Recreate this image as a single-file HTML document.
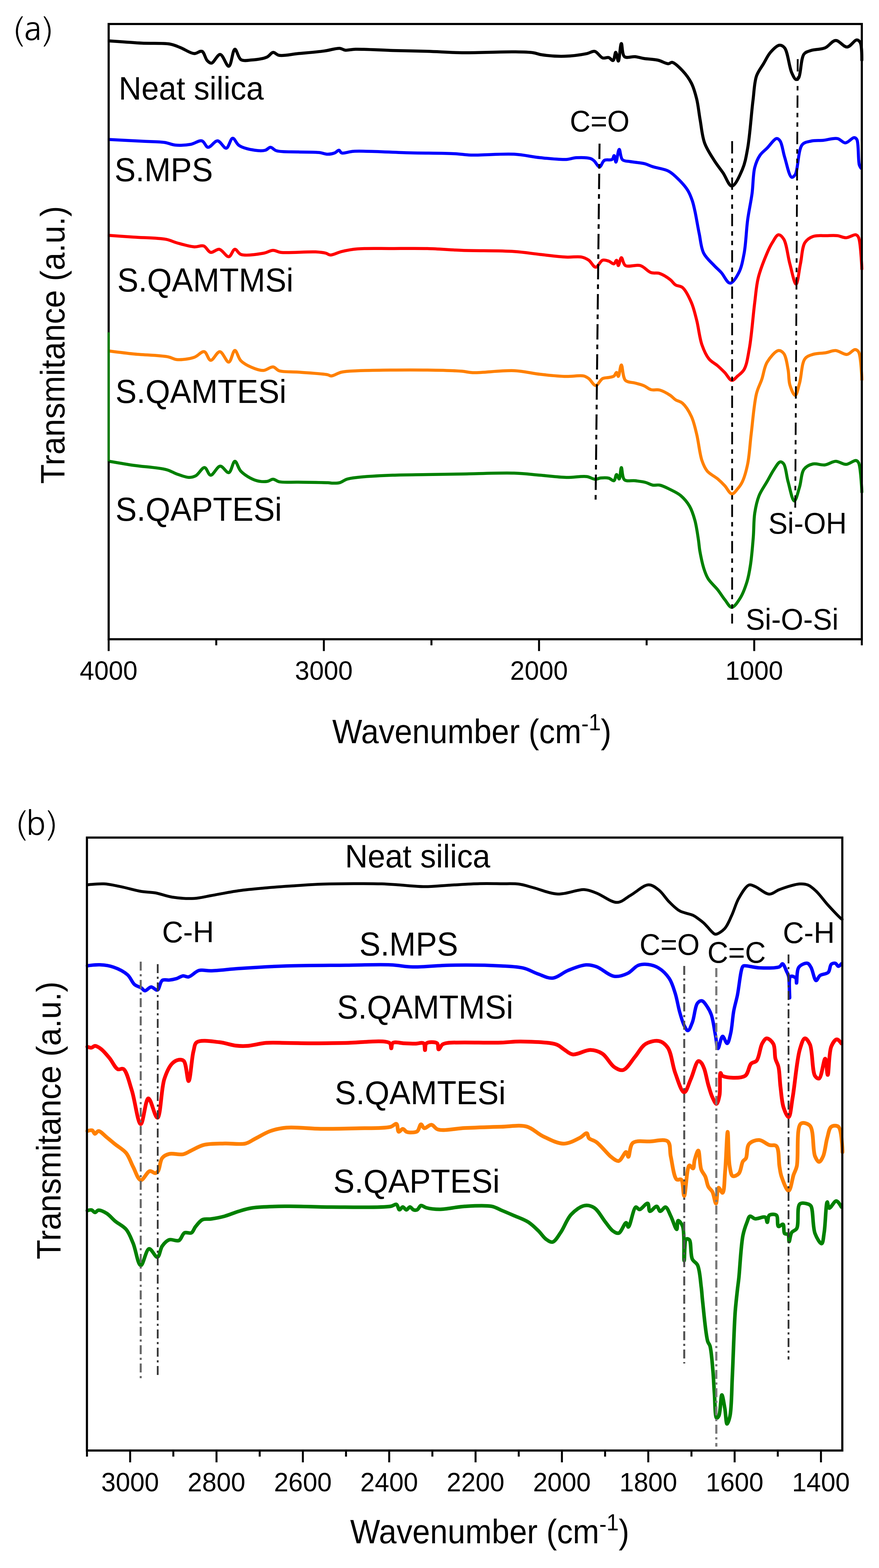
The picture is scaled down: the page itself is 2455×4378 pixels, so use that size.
<!DOCTYPE html><html><head><meta charset="utf-8"><title>FTIR spectra</title>
<style>html,body{margin:0;padding:0;background:#fff;}body{width:2455px;height:4378px;overflow:hidden;}svg{display:block;}text{font-family:"Liberation Sans", Arial, Helvetica, sans-serif;fill:#000;stroke:none;}</style></head><body>
<svg width="2455" height="4378" viewBox="0 0 2455 4378">
<rect width="2455" height="4378" fill="#fff"/>
<g>
<path d="M305.0 114.3C305.1 114.3 333.5 116.2 348.4 117.2C364.1 118.3 378.9 119.7 397.0 120.6C419.8 121.8 455.0 119.5 474.4 123.0C486.6 125.2 493.2 128.7 503.5 132.7C515.5 137.3 530.8 148.8 542.0 149.6C550.2 150.2 558.1 140.9 564.0 143.3C570.7 146.0 573.2 163.4 578.6 169.0C582.4 172.9 586.2 176.8 590.7 176.3C597.7 175.4 607.3 151.4 615.0 152.0C623.4 152.7 632.4 186.0 639.0 185.0C646.4 183.9 649.6 138.1 656.0 137.5C661.2 137.0 664.9 161.7 673.0 166.6C680.5 171.1 691.4 168.4 702.0 167.6C715.1 166.6 734.9 164.1 745.7 159.3C753.2 155.9 756.9 146.8 762.7 146.2C768.2 145.7 772.1 153.1 779.6 154.5C792.2 156.8 813.8 151.4 833.0 149.6C855.3 147.5 884.5 145.2 905.6 142.4C922.0 140.2 938.4 134.2 949.0 135.0C955.3 135.5 957.9 139.3 963.7 140.0C971.7 141.0 980.1 137.8 992.8 137.5C1016.8 136.9 1062.9 140.0 1097.0 141.0C1129.9 141.9 1161.7 142.3 1194.0 143.3C1226.3 144.3 1255.2 146.8 1290.7 147.2C1334.2 147.7 1399.5 144.3 1436.0 144.8C1458.0 145.1 1474.8 145.2 1489.0 147.2C1498.8 148.6 1503.4 151.5 1513.6 153.0C1529.7 155.4 1555.6 157.6 1576.6 157.0C1597.6 156.4 1624.1 152.7 1639.5 149.6C1648.6 147.7 1654.2 141.9 1661.0 143.3C1668.7 144.9 1675.7 159.3 1683.0 161.7C1688.7 163.6 1695.0 159.3 1700.0 160.7C1704.7 162.0 1709.2 170.1 1712.3 169.0C1716.3 167.6 1717.3 146.0 1719.7 146.0C1722.2 146.0 1724.7 170.7 1727.0 170.6C1730.1 170.4 1732.3 121.5 1735.4 121.4C1738.1 121.3 1736.9 152.5 1744.2 158.3C1750.6 163.4 1764.4 157.4 1773.7 158.3C1782.3 159.1 1789.1 161.7 1798.3 163.2C1809.8 165.1 1825.6 165.3 1837.6 168.0C1848.2 170.4 1859.8 178.2 1867.0 178.0C1871.2 177.9 1873.0 173.4 1877.0 174.0C1884.5 175.1 1897.6 188.3 1906.4 197.6C1915.7 207.5 1924.5 219.3 1931.0 232.0C1937.8 245.3 1941.7 260.1 1945.7 276.0C1950.2 294.1 1951.9 315.0 1955.5 335.0C1959.2 355.9 1960.8 379.6 1967.8 399.0C1974.3 417.0 1985.6 433.3 1994.8 448.0C2002.8 460.8 2011.3 470.8 2019.4 482.6C2027.7 494.6 2035.5 519.6 2044.0 519.5C2053.5 519.4 2066.2 489.9 2073.5 472.8C2081.2 454.8 2083.9 437.6 2088.2 413.8C2094.5 378.6 2098.3 318.0 2103.0 281.0C2106.4 254.3 2106.5 230.8 2112.8 212.3C2117.6 198.4 2125.8 189.2 2132.4 178.0C2138.9 167.1 2144.2 154.8 2152.0 146.0C2159.2 137.9 2169.3 127.1 2176.7 126.3C2182.0 125.7 2187.1 128.5 2191.4 133.7C2200.4 144.6 2204.0 186.9 2211.0 202.5C2215.0 211.4 2219.3 221.1 2223.3 222.0C2225.8 222.5 2228.4 220.5 2230.7 217.2C2237.0 208.1 2236.4 162.7 2245.5 151.0C2250.7 144.3 2257.1 143.7 2265.0 141.0C2275.6 137.4 2292.7 138.6 2304.4 133.7C2315.5 129.0 2323.8 113.4 2334.0 113.0C2344.3 112.5 2355.8 131.8 2365.8 131.3C2375.4 130.8 2386.1 111.5 2392.9 111.6C2397.0 111.6 2400.3 114.6 2402.7 119.0C2407.5 127.7 2407.0 167.9 2407.0 168.0" fill="none" stroke="#000" stroke-width="8.5" stroke-linejoin="round" stroke-linecap="round"/>
<path d="M305.0 389.5C305.1 389.5 369.2 392.8 397.0 394.3C420.0 395.5 443.1 395.1 460.0 397.7C471.6 399.5 478.3 403.9 489.0 405.0C502.0 406.3 519.4 405.3 532.6 403.0C544.1 401.0 555.6 391.1 564.0 393.3C571.3 395.2 574.3 410.6 581.0 411.3C588.6 412.1 599.1 392.9 607.6 393.3C616.1 393.7 625.0 414.8 632.0 413.7C639.1 412.6 643.5 386.5 649.8 386.0C655.6 385.5 659.7 401.1 668.0 406.4C678.8 413.3 698.5 417.6 711.8 419.5C722.4 421.1 733.2 421.6 741.0 419.5C746.9 417.9 750.4 411.3 755.4 411.3C760.8 411.3 764.6 418.7 772.4 421.0C786.1 425.0 813.0 423.5 833.0 424.3C852.5 425.1 875.9 424.1 891.0 425.8C900.8 426.9 907.4 430.5 915.0 430.6C921.9 430.7 929.1 429.2 934.7 427.0C939.4 425.2 943.4 419.1 946.8 419.5C949.7 419.9 950.2 425.7 954.0 427.0C960.8 429.4 972.5 423.2 988.0 422.4C1021.2 420.6 1095.5 425.6 1145.0 426.8C1189.3 427.8 1239.8 427.6 1271.0 429.2C1289.5 430.2 1296.7 432.4 1315.0 433.0C1345.3 434.0 1400.8 428.6 1436.0 430.6C1463.4 432.1 1484.5 437.9 1508.7 440.3C1532.8 442.7 1562.4 446.1 1581.0 445.2C1592.8 444.6 1599.4 440.9 1609.8 440.3C1622.0 439.7 1641.1 439.9 1649.7 442.8C1654.4 444.4 1656.2 446.4 1659.7 449.4C1664.4 453.5 1669.9 466.2 1674.6 466.0C1679.3 465.8 1682.0 451.1 1687.9 447.7C1693.7 444.3 1704.9 448.4 1709.5 445.3C1712.9 443.0 1713.6 434.3 1715.3 434.5C1717.4 434.7 1718.4 452.7 1720.3 452.7C1722.9 452.7 1726.2 417.1 1729.4 417.0C1732.3 416.9 1732.6 440.5 1738.5 446.0C1743.4 450.6 1753.0 449.8 1759.3 451.0C1764.5 452.0 1768.2 452.2 1773.7 453.0C1781.2 454.1 1791.6 454.8 1800.0 456.9C1808.0 459.0 1814.0 462.5 1822.9 465.4C1835.1 469.4 1854.4 471.1 1867.0 477.7C1878.6 483.8 1887.6 493.3 1896.6 502.3C1905.6 511.3 1914.7 521.5 1921.0 531.7C1926.6 540.8 1930.1 550.4 1933.4 560.0C1936.7 569.5 1938.2 577.4 1940.8 589.0C1944.6 606.1 1948.7 632.6 1953.0 653.0C1956.9 671.8 1957.7 691.8 1965.4 707.0C1972.3 720.8 1985.8 731.8 1994.8 741.5C2001.8 749.1 2007.8 753.6 2014.5 761.0C2022.4 769.7 2030.8 790.6 2039.0 790.6C2047.2 790.6 2057.3 773.2 2063.6 761.0C2071.2 746.3 2074.5 727.6 2078.4 707.0C2083.4 680.3 2084.2 642.9 2088.2 613.7C2091.7 587.6 2097.2 564.5 2100.5 540.0C2103.7 515.9 2102.9 487.2 2107.9 467.9C2111.5 454.0 2116.2 442.9 2122.6 433.5C2128.1 425.4 2135.2 420.9 2142.3 413.8C2150.6 405.5 2162.4 387.3 2169.3 386.8C2173.2 386.5 2176.1 389.8 2179.0 394.0C2184.6 402.1 2186.5 422.8 2191.4 438.4C2197.0 456.2 2203.9 492.7 2211.0 494.9C2214.2 495.9 2217.9 492.2 2221.0 487.5C2229.1 475.1 2228.7 417.8 2240.5 404.0C2247.0 396.3 2255.9 396.1 2265.0 394.0C2275.3 391.6 2287.6 392.8 2299.5 391.7C2312.2 390.5 2327.8 384.7 2338.8 386.8C2347.6 388.5 2353.5 399.1 2361.0 399.0C2369.0 398.8 2379.7 384.2 2385.5 384.3C2388.7 384.4 2390.9 385.8 2392.9 389.2C2398.7 398.8 2396.2 448.0 2400.0 460.5C2401.5 465.4 2405.0 470.0 2405.0 470.0" fill="none" stroke="#0000ff" stroke-width="8.5" stroke-linejoin="round" stroke-linecap="round"/>
<path d="M305.0 657.2C305.1 657.2 348.4 660.3 372.7 662.0C401.0 664.0 442.8 664.1 464.7 668.4C477.3 670.9 482.8 674.9 493.8 678.0C507.8 681.9 528.4 688.2 542.2 689.2C552.3 689.9 561.2 684.2 568.9 686.8C576.5 689.4 581.0 703.2 588.3 704.7C595.5 706.2 604.6 694.7 612.5 696.0C621.5 697.5 631.5 717.6 639.0 716.8C645.7 716.1 650.0 696.5 656.0 696.0C661.4 695.5 664.8 707.7 673.0 710.5C686.8 715.2 719.6 709.9 736.0 707.0C746.9 705.1 754.2 699.1 762.7 699.0C770.3 698.9 774.5 703.5 784.5 704.7C805.2 707.2 858.6 702.0 881.4 703.3C894.0 704.0 903.0 705.0 910.5 707.0C915.5 708.3 917.6 711.8 922.6 712.0C930.6 712.4 942.6 705.0 954.0 702.3C967.3 699.2 980.1 696.5 997.7 695.0C1024.0 692.7 1064.1 694.2 1097.0 694.0C1129.5 693.8 1161.7 693.2 1194.0 694.0C1226.3 694.8 1255.2 697.7 1290.7 699.0C1334.2 700.6 1395.9 699.6 1436.0 702.3C1464.4 704.2 1484.5 707.9 1508.7 710.5C1532.8 713.1 1559.9 716.7 1581.0 717.8C1597.5 718.6 1613.5 715.3 1625.0 717.8C1633.0 719.5 1638.3 722.3 1644.4 726.5C1651.3 731.3 1657.4 746.0 1663.8 746.0C1670.2 746.0 1676.2 728.8 1683.0 726.5C1688.4 724.7 1694.7 727.3 1700.0 729.0C1705.2 730.7 1710.9 737.5 1714.7 736.6C1718.0 735.8 1720.0 726.4 1722.0 726.7C1724.2 727.0 1725.1 741.5 1727.0 741.5C1729.4 741.5 1732.2 719.6 1735.4 719.4C1738.7 719.2 1739.9 737.3 1746.7 741.5C1755.5 746.9 1776.3 737.8 1788.5 741.5C1799.8 744.9 1808.2 757.5 1818.0 761.0C1826.2 763.9 1834.2 760.9 1842.5 763.6C1852.2 766.8 1864.2 774.8 1872.0 780.8C1878.1 785.5 1881.0 791.8 1886.7 795.5C1892.4 799.2 1900.3 797.8 1906.4 803.0C1915.7 810.8 1924.5 829.8 1931.0 844.7C1937.7 860.0 1941.1 876.0 1945.7 893.8C1951.1 914.7 1953.6 943.2 1960.4 962.6C1965.8 977.9 1971.7 991.8 1980.0 1002.0C1987.0 1010.6 1997.1 1015.0 2004.7 1021.6C2011.7 1027.7 2017.6 1033.5 2024.0 1040.0C2030.7 1046.9 2037.4 1061.4 2044.0 1062.0C2049.4 1062.5 2054.7 1054.7 2060.0 1050.0C2066.1 1044.7 2073.4 1040.3 2078.4 1031.4C2086.0 1017.9 2088.7 996.0 2093.0 972.4C2099.2 938.1 2103.2 880.7 2107.9 844.7C2111.3 818.2 2112.1 798.6 2117.7 775.9C2123.4 752.6 2134.6 725.0 2142.3 707.0C2147.4 695.0 2151.4 686.5 2157.0 677.6C2162.2 669.4 2168.3 656.1 2174.2 655.5C2179.1 655.0 2184.7 661.0 2189.0 667.8C2197.2 680.8 2200.0 714.9 2206.0 736.6C2211.5 756.4 2218.3 793.2 2223.3 793.0C2228.2 792.8 2231.5 755.6 2235.6 736.6C2239.8 717.2 2239.9 690.6 2248.0 677.6C2253.5 668.8 2261.0 663.8 2270.0 660.4C2280.7 656.3 2297.1 658.4 2309.3 658.0C2319.8 657.7 2329.5 656.9 2338.8 658.0C2347.4 659.0 2355.0 664.1 2363.4 663.8C2372.2 663.5 2384.5 654.0 2390.4 655.5C2394.0 656.4 2395.7 658.5 2397.8 662.9C2403.9 675.8 2407.0 751.2 2407.0 751.3" fill="none" stroke="#ff0000" stroke-width="8.5" stroke-linejoin="round" stroke-linecap="round"/>
<path d="M305.0 980.0C305.1 980.0 348.1 985.7 372.7 988.2C402.1 991.2 448.2 992.2 469.6 996.4C480.5 998.5 484.2 1003.2 493.8 1004.0C507.1 1005.2 528.6 1002.3 542.2 997.8C553.3 994.1 562.5 980.3 570.3 981.9C577.8 983.5 581.4 1005.4 588.3 1006.0C595.8 1006.7 605.7 981.5 614.0 981.9C622.6 982.4 631.9 1011.8 639.0 1011.0C645.9 1010.2 650.2 978.6 656.0 978.5C661.5 978.4 664.7 999.4 673.0 1007.5C682.5 1016.8 700.1 1024.9 711.8 1029.3C720.5 1032.5 727.8 1034.8 736.0 1034.2C744.8 1033.5 755.0 1023.7 762.7 1024.5C769.2 1025.2 772.0 1032.7 779.6 1035.2C792.1 1039.3 813.3 1037.4 833.0 1039.0C857.5 1041.0 901.4 1043.3 915.3 1046.3C920.2 1047.4 920.9 1049.7 925.0 1049.7C932.1 1049.6 943.2 1041.4 954.0 1039.0C966.9 1036.1 977.9 1036.2 997.7 1035.2C1039.6 1033.2 1140.0 1032.5 1194.0 1033.2C1231.9 1033.7 1267.9 1034.7 1290.7 1036.6C1303.3 1037.7 1306.8 1039.9 1319.8 1040.5C1345.6 1041.6 1401.8 1033.5 1436.0 1035.0C1463.1 1036.2 1484.5 1042.3 1508.7 1045.0C1532.8 1047.7 1559.2 1050.4 1581.0 1051.0C1598.8 1051.5 1618.5 1047.2 1629.8 1049.7C1636.3 1051.1 1639.5 1053.5 1644.4 1057.0C1650.8 1061.6 1657.4 1076.3 1663.8 1076.3C1670.2 1076.3 1676.2 1060.6 1683.0 1057.0C1688.4 1054.2 1694.6 1055.2 1700.0 1054.0C1705.1 1052.9 1711.0 1052.6 1714.7 1050.0C1718.1 1047.7 1719.9 1039.8 1722.0 1040.0C1724.0 1040.2 1725.3 1051.1 1727.0 1051.0C1729.8 1050.8 1732.4 1019.0 1735.4 1019.0C1738.9 1019.0 1738.7 1053.9 1746.7 1062.0C1753.0 1068.4 1764.9 1067.0 1773.7 1069.5C1782.1 1071.9 1790.7 1073.7 1798.3 1076.9C1805.4 1079.9 1810.8 1086.0 1818.0 1088.0C1825.5 1090.1 1834.2 1086.8 1842.5 1089.0C1852.1 1091.5 1864.1 1098.7 1872.0 1103.9C1878.0 1107.9 1881.2 1112.6 1886.7 1116.2C1892.6 1120.0 1900.2 1120.5 1906.4 1126.0C1915.3 1133.8 1924.6 1149.1 1931.0 1162.8C1937.9 1177.5 1941.2 1193.8 1945.7 1212.0C1951.2 1234.0 1954.0 1267.0 1960.4 1285.7C1964.7 1298.1 1968.1 1306.8 1975.2 1315.2C1982.7 1324.1 1996.1 1330.0 2004.7 1337.3C2012.0 1343.6 2017.7 1349.3 2024.0 1356.0C2030.8 1363.1 2037.5 1378.6 2044.0 1379.0C2049.4 1379.4 2055.2 1370.5 2060.0 1365.0C2065.1 1359.1 2069.5 1353.3 2073.5 1344.7C2079.4 1332.2 2084.3 1314.2 2088.2 1295.5C2093.2 1271.5 2094.3 1241.9 2098.0 1212.0C2102.3 1177.2 2105.9 1126.7 2112.8 1099.0C2117.0 1082.2 2122.8 1073.5 2127.5 1059.7C2132.7 1044.6 2134.2 1025.4 2142.3 1011.7C2150.0 998.6 2165.1 980.1 2174.2 978.8C2179.7 978.0 2185.0 981.9 2189.0 987.0C2195.6 995.4 2198.2 1016.6 2201.0 1031.4C2203.8 1045.7 2202.2 1061.7 2206.0 1074.4C2209.3 1085.5 2216.5 1104.2 2220.9 1103.9C2225.6 1103.6 2229.3 1083.0 2233.2 1069.5C2238.5 1050.9 2238.6 1014.7 2248.0 1002.0C2253.7 994.3 2261.4 992.5 2270.0 989.6C2280.4 986.1 2295.6 986.7 2306.9 984.7C2316.7 983.0 2324.7 978.3 2334.0 978.8C2344.3 979.4 2356.4 990.7 2365.8 989.6C2374.1 988.7 2382.1 975.8 2388.0 975.9C2391.9 976.0 2395.1 978.0 2397.8 982.3C2404.7 993.5 2407.0 1059.9 2407.0 1060.0" fill="none" stroke="#ff8000" stroke-width="8.5" stroke-linejoin="round" stroke-linecap="round"/>
<path d="M305.0 1288.0C305.1 1288.0 348.4 1295.6 372.7 1299.2C401.0 1303.4 442.9 1305.4 464.7 1311.3C477.4 1314.7 483.6 1319.9 493.8 1323.4C504.6 1327.1 518.0 1332.8 527.7 1333.0C535.0 1333.1 540.6 1331.7 547.0 1328.3C555.2 1323.8 564.2 1305.0 571.3 1305.5C577.8 1306.0 581.7 1326.3 588.3 1326.8C596.0 1327.3 606.1 1302.1 615.0 1301.6C623.0 1301.1 632.3 1321.1 639.0 1319.6C646.3 1318.0 650.2 1288.2 656.0 1288.0C661.5 1287.9 664.9 1307.8 673.0 1316.0C682.6 1325.7 698.8 1335.8 711.8 1340.4C723.0 1344.3 736.4 1345.4 745.7 1344.3C752.5 1343.5 757.1 1337.9 762.7 1338.0C768.4 1338.1 772.2 1343.6 779.6 1345.2C792.2 1347.9 813.3 1345.8 833.0 1346.2C857.5 1346.7 899.0 1346.8 915.3 1347.7C922.2 1348.1 924.8 1348.9 930.0 1349.0C935.9 1349.1 942.8 1349.4 949.0 1347.7C955.7 1345.9 961.2 1340.4 968.6 1338.0C977.2 1335.2 985.1 1334.5 997.7 1333.0C1020.9 1330.3 1064.1 1328.1 1097.0 1326.8C1129.5 1325.5 1161.5 1325.6 1193.8 1325.0C1226.1 1324.4 1255.1 1324.0 1290.7 1323.4C1334.2 1322.7 1395.9 1319.7 1436.0 1321.0C1464.4 1321.9 1484.5 1324.8 1508.7 1326.8C1532.9 1328.8 1558.5 1332.5 1581.4 1333.0C1601.8 1333.5 1624.9 1328.6 1639.5 1330.7C1648.7 1332.0 1654.4 1337.6 1661.3 1338.0C1667.3 1338.4 1672.3 1335.1 1678.3 1334.6C1685.1 1334.0 1693.6 1333.5 1700.0 1335.0C1705.5 1336.3 1711.1 1343.6 1714.7 1342.2C1718.6 1340.8 1719.3 1325.2 1722.0 1325.0C1724.3 1324.8 1727.5 1337.7 1729.5 1337.3C1732.5 1336.7 1733.0 1305.5 1735.4 1305.4C1737.9 1305.3 1737.2 1333.9 1744.2 1339.8C1750.6 1345.2 1763.9 1341.0 1773.7 1342.2C1783.6 1343.4 1794.5 1344.7 1803.2 1347.0C1810.5 1349.0 1816.2 1353.3 1822.9 1354.5C1829.3 1355.7 1835.5 1353.1 1842.5 1354.5C1851.5 1356.3 1862.3 1362.0 1872.0 1366.8C1882.0 1371.8 1892.7 1376.5 1901.5 1384.0C1910.8 1391.9 1919.5 1402.4 1926.0 1413.5C1932.8 1425.2 1936.8 1438.5 1940.8 1452.8C1945.3 1469.2 1948.2 1491.1 1950.6 1506.8C1952.5 1518.8 1952.6 1527.0 1954.7 1538.8C1957.4 1553.7 1961.7 1575.0 1966.3 1589.0C1969.8 1599.7 1972.4 1607.3 1978.0 1616.3C1984.6 1626.8 1997.0 1637.1 2005.0 1647.3C2012.2 1656.5 2017.7 1666.1 2024.4 1674.4C2030.6 1682.1 2037.0 1695.7 2043.8 1695.7C2051.2 1695.7 2060.4 1680.9 2067.0 1670.5C2075.1 1657.9 2081.5 1639.7 2086.4 1624.0C2091.1 1608.7 2093.3 1595.0 2096.0 1577.5C2099.5 1555.0 2101.9 1524.9 2103.9 1500.0C2105.8 1476.9 2104.8 1453.5 2107.9 1433.0C2110.6 1415.3 2114.0 1399.1 2120.0 1384.0C2125.7 1369.8 2135.1 1357.4 2142.3 1344.7C2149.1 1332.8 2155.3 1320.1 2162.0 1310.3C2167.5 1302.3 2173.7 1290.5 2179.0 1289.6C2182.5 1289.0 2186.1 1291.6 2189.0 1295.5C2195.0 1303.6 2196.3 1328.0 2201.0 1344.7C2206.0 1362.4 2212.6 1398.6 2218.4 1398.7C2223.4 1398.8 2228.8 1373.4 2233.2 1359.4C2238.0 1344.1 2237.5 1321.1 2245.5 1310.3C2251.5 1302.2 2260.7 1297.7 2270.0 1295.5C2280.2 1293.1 2293.5 1299.4 2304.4 1298.0C2314.8 1296.7 2324.1 1288.2 2334.0 1288.0C2343.8 1287.8 2353.9 1297.0 2363.4 1296.5C2372.7 1296.0 2384.4 1284.8 2390.4 1285.7C2393.8 1286.2 2395.7 1287.8 2397.8 1291.6C2404.0 1302.9 2407.0 1373.9 2407.0 1374.0" fill="none" stroke="#008000" stroke-width="8.5" stroke-linejoin="round" stroke-linecap="round"/>
<line x1="1674.5" y1="401.0" x2="1663.5" y2="1396.0" stroke="#000" stroke-width="5.5" stroke-dasharray="43 14 13 14" stroke-dashoffset="0.0"/>
<line x1="2044.8" y1="394.0" x2="2044.8" y2="1741.0" stroke="#000" stroke-width="5.0" stroke-dasharray="34.5 14 12.5 14 12.5 14" stroke-dashoffset="0.0"/>
<line x1="2228.0" y1="165.0" x2="2221.0" y2="1431.0" stroke="#000" stroke-width="5.0" stroke-dasharray="34.5 14 12.5 14 12.5 14" stroke-dashoffset="0.0"/>
<rect x="303.5" y="67.0" width="2103.5" height="1717.8" fill="none" stroke="#000" stroke-width="6"/>
<line x1="303.5" y1="1784.8" x2="303.5" y2="1817.8" stroke="#000" stroke-width="5.5"/>
<line x1="604.0" y1="1784.8" x2="604.0" y2="1801.8" stroke="#000" stroke-width="5.5"/>
<line x1="904.5" y1="1784.8" x2="904.5" y2="1817.8" stroke="#000" stroke-width="5.5"/>
<line x1="1205.0" y1="1784.8" x2="1205.0" y2="1801.8" stroke="#000" stroke-width="5.5"/>
<line x1="1505.5" y1="1784.8" x2="1505.5" y2="1817.8" stroke="#000" stroke-width="5.5"/>
<line x1="1806.0" y1="1784.8" x2="1806.0" y2="1801.8" stroke="#000" stroke-width="5.5"/>
<line x1="2106.5" y1="1784.8" x2="2106.5" y2="1817.8" stroke="#000" stroke-width="5.5"/>
<line x1="2407.0" y1="1784.8" x2="2407.0" y2="1801.8" stroke="#000" stroke-width="5.5"/>
<line x1="303.5" y1="928" x2="303.5" y2="1288" stroke="#008000" stroke-width="6"/>
<text transform="translate(303.5 1898.0) scale(1 1.0150)" font-size="72.5" text-anchor="middle">4000</text>
<text transform="translate(904.5 1898.0) scale(1 1.0150)" font-size="72.5" text-anchor="middle">3000</text>
<text transform="translate(1505.5 1898.0) scale(1 1.0150)" font-size="72.5" text-anchor="middle">2000</text>
<text transform="translate(2106.5 1898.0) scale(1 1.0150)" font-size="72.5" text-anchor="middle">1000</text>
<text transform="translate(331.6 278.0) scale(1.0000 1.0400)" font-size="87.8">Neat silica</text>
<text transform="translate(319.9 505.5) scale(1.0000 1.0400)" font-size="88.3">S.MPS</text>
<text transform="translate(327.4 813.5) scale(1.0000 1.0400)" font-size="88.6">S.QAMTMSi</text>
<text transform="translate(322.5 1124.5) scale(1.0000 1.0400)" font-size="88.6">S.QAMTESi</text>
<text transform="translate(322.5 1454.0) scale(1.0000 1.0400)" font-size="89.0">S.QAPTESi</text>
<text transform="translate(1591.6 366.5) scale(1.0000 1.0400)" font-size="80.0">C=O</text>
<text transform="translate(2145.9 1489.6) scale(1.0000 1.0300)" font-size="80.5">Si-OH</text>
<text transform="translate(2082.7 1757.8) scale(1.0000 1.0300)" font-size="80.4">Si-O-Si</text>
<text style="font-family:NanumGothic,'Liberation Sans',sans-serif;stroke:none"><tspan x="34.0" y="117.8" font-size="88.2">(</tspan><tspan x="67.0" y="111.6" font-size="90.0">a</tspan><tspan x="117.9" y="117.8" font-size="88.2">)</tspan></text>
<text transform="translate(928.1 2074.6) scale(1 1.0650)" font-size="88.6">Wavenumber (cm<tspan font-size="61" dy="-29.4">-</tspan><tspan font-size="61" dy="-4">1</tspan><tspan dy="33.4">)</tspan></text>
<text transform="translate(180.0 1351.0) rotate(-90) scale(1 1.0500)" font-size="89.9">Transmitance (a.u.)</text>
<path d="M244.0 2470.5C244.1 2470.5 275.0 2467.0 290.4 2467.8C306.0 2468.6 320.7 2472.4 337.0 2475.6C355.3 2479.2 377.5 2486.1 395.0 2489.0C409.1 2491.4 420.4 2490.6 433.8 2493.0C448.7 2495.6 463.6 2502.1 480.3 2504.7C499.4 2507.7 523.2 2509.5 542.3 2508.5C559.0 2507.6 571.3 2503.8 588.8 2500.8C611.4 2496.9 640.5 2490.6 666.4 2487.0C692.2 2483.4 719.2 2481.2 743.9 2479.0C766.5 2477.0 785.4 2475.6 809.0 2474.0C837.2 2472.1 866.6 2469.6 902.0 2468.5C948.9 2467.0 1028.1 2466.7 1065.8 2467.8C1085.7 2468.4 1094.4 2469.5 1111.5 2470.6C1133.4 2472.0 1161.6 2475.5 1186.2 2475.6C1210.1 2475.7 1232.3 2472.7 1256.8 2471.4C1283.4 2470.0 1314.4 2467.9 1339.9 2467.3C1361.5 2466.8 1380.9 2467.3 1400.0 2467.5C1417.4 2467.7 1434.1 2466.4 1449.8 2468.5C1464.4 2470.5 1475.9 2475.0 1491.4 2479.0C1511.0 2484.0 1534.9 2495.3 1557.8 2496.3C1581.9 2497.4 1612.8 2482.8 1632.6 2483.9C1646.0 2484.7 1653.4 2488.9 1665.8 2493.4C1682.7 2499.6 1706.8 2520.2 1723.9 2519.6C1737.9 2519.1 1748.0 2507.1 1761.3 2499.7C1776.8 2491.1 1796.6 2471.1 1811.1 2470.6C1822.0 2470.2 1831.1 2478.1 1840.2 2485.1C1850.8 2493.3 1859.2 2508.4 1869.3 2518.4C1878.7 2527.7 1887.3 2537.1 1898.3 2543.3C1909.4 2549.6 1926.4 2551.2 1935.7 2555.7C1941.8 2558.6 1945.3 2561.6 1950.0 2565.0C1955.0 2568.5 1960.4 2572.6 1964.8 2576.5C1968.7 2579.9 1971.3 2583.1 1975.0 2587.0C1979.5 2591.7 1985.3 2599.2 1989.7 2603.0C1992.7 2605.6 1994.6 2608.5 1998.2 2608.6C2004.4 2608.7 2016.6 2600.6 2023.8 2593.0C2032.3 2584.0 2037.3 2569.3 2043.6 2556.0C2050.6 2541.2 2055.1 2522.3 2063.5 2507.8C2071.4 2494.1 2082.6 2474.3 2091.9 2471.0C2097.6 2469.0 2102.3 2472.6 2109.0 2475.2C2119.7 2479.3 2136.4 2496.1 2148.6 2496.5C2158.8 2496.9 2165.7 2487.8 2177.0 2483.7C2192.5 2478.1 2219.1 2469.1 2233.8 2468.1C2243.0 2467.5 2249.3 2468.1 2256.5 2471.0C2264.5 2474.2 2271.3 2480.6 2279.2 2488.0C2289.9 2498.0 2301.7 2515.0 2313.2 2527.7C2324.4 2540.0 2341.0 2557.5 2347.3 2563.2C2349.5 2565.2 2352.0 2567.0 2352.0 2567.0" fill="none" stroke="#000" stroke-width="8.0" stroke-linejoin="round" stroke-linecap="round"/>
<path d="M244.0 2696.5C244.1 2696.5 266.9 2693.3 278.8 2693.8C291.4 2694.4 304.9 2696.0 317.5 2700.4C330.8 2705.0 346.3 2712.8 356.3 2721.7C365.0 2729.4 368.4 2742.5 375.7 2748.8C381.6 2753.8 389.8 2755.2 395.0 2758.5C398.9 2761.0 400.9 2766.0 404.7 2766.3C409.6 2766.6 416.3 2756.1 422.2 2755.8C427.9 2755.6 434.8 2765.9 439.6 2764.3C445.6 2762.3 446.7 2741.4 453.2 2737.2C458.4 2733.8 466.2 2737.2 472.6 2736.4C479.1 2735.6 485.6 2734.5 492.0 2732.6C498.5 2730.7 505.1 2725.5 511.3 2724.8C516.7 2724.2 521.1 2728.6 526.8 2727.5C535.3 2725.9 545.5 2712.3 555.9 2709.5C566.1 2706.8 575.5 2710.8 588.8 2710.5C609.2 2710.0 637.0 2706.3 666.4 2704.3C704.9 2701.7 753.0 2698.6 800.0 2697.0C852.3 2695.2 914.6 2695.4 966.0 2694.9C1010.5 2694.5 1056.3 2692.5 1090.7 2694.0C1115.1 2695.0 1129.6 2699.3 1153.0 2699.8C1183.2 2700.5 1219.4 2695.5 1256.8 2694.9C1300.7 2694.2 1362.1 2694.8 1400.0 2697.0C1425.1 2698.4 1443.9 2698.7 1462.3 2703.2C1477.8 2707.0 1490.0 2715.1 1503.8 2719.8C1517.0 2724.3 1530.0 2732.2 1543.3 2731.0C1557.7 2729.7 1571.6 2715.5 1586.9 2709.4C1602.7 2703.1 1622.2 2694.9 1636.7 2694.0C1647.6 2693.3 1655.1 2695.3 1665.8 2699.0C1680.6 2704.1 1699.8 2723.8 1715.6 2726.0C1728.6 2727.8 1741.8 2722.9 1753.0 2717.7C1763.9 2712.7 1771.9 2699.7 1782.0 2695.7C1790.7 2692.2 1799.8 2691.8 1809.0 2692.8C1819.1 2693.9 1830.6 2697.3 1840.2 2703.2C1850.9 2709.8 1861.8 2720.8 1869.3 2732.2C1877.2 2744.1 1881.2 2759.0 1885.9 2773.8C1891.0 2790.0 1893.8 2809.9 1898.3 2825.7C1902.2 2839.3 1906.1 2853.7 1910.8 2863.0C1914.0 2869.3 1917.7 2877.8 1921.2 2877.6C1925.4 2877.3 1929.8 2864.3 1933.6 2854.8C1939.2 2840.9 1941.0 2809.6 1948.2 2800.8C1951.8 2796.4 1956.6 2793.7 1960.6 2794.5C1965.7 2795.5 1971.2 2804.9 1975.5 2811.2C1980.1 2817.9 1983.6 2824.4 1986.9 2834.0C1991.8 2848.4 1994.9 2873.8 1998.2 2890.7C2000.9 2904.3 2001.9 2927.3 2005.3 2927.6C2008.6 2927.9 2013.3 2894.0 2018.1 2893.5C2022.0 2893.1 2027.3 2913.8 2030.9 2913.4C2035.0 2912.9 2038.0 2896.5 2040.8 2885.0C2044.8 2868.4 2045.8 2841.3 2049.3 2822.6C2052.2 2807.0 2055.8 2796.5 2059.3 2780.0C2064.2 2757.1 2068.2 2705.2 2074.9 2698.0C2076.7 2696.1 2077.8 2696.7 2080.5 2696.5C2087.7 2696.1 2105.8 2701.5 2120.3 2702.2C2137.5 2703.0 2166.8 2703.9 2177.0 2699.4C2181.7 2697.3 2182.7 2690.5 2185.5 2690.9C2189.4 2691.5 2193.9 2705.8 2196.9 2712.2C2199.3 2717.3 2201.2 2719.8 2202.6 2726.3C2205.4 2739.2 2204.5 2786.0 2205.4 2786.0C2206.3 2786.0 2201.5 2731.0 2208.2 2726.3C2211.5 2724.0 2219.7 2727.5 2222.4 2730.6C2225.1 2733.7 2223.8 2744.8 2224.7 2744.8C2226.3 2744.8 2224.2 2709.9 2231.0 2700.8C2236.2 2693.7 2249.0 2688.3 2255.0 2689.5C2259.5 2690.4 2261.8 2695.6 2265.0 2700.8C2270.1 2709.3 2274.0 2736.9 2279.2 2737.7C2282.7 2738.2 2285.4 2727.2 2290.5 2723.5C2296.3 2719.3 2308.0 2720.2 2313.2 2715.0C2318.4 2709.8 2317.3 2696.2 2321.7 2692.3C2324.7 2689.6 2329.8 2688.6 2333.1 2689.5C2336.4 2690.4 2338.7 2697.9 2341.6 2698.0C2344.4 2698.1 2350.0 2690.9 2350.0 2690.9" fill="none" stroke="#0000ff" stroke-width="9.5" stroke-linejoin="round" stroke-linecap="round"/>
<path d="M243.9 2922.6C243.9 2922.6 251.9 2925.7 255.5 2925.3C259.0 2924.9 261.5 2920.3 265.2 2920.3C270.2 2920.3 276.8 2924.8 282.6 2929.2C290.3 2935.1 298.4 2945.4 305.9 2954.4C313.9 2964.0 321.1 2981.6 329.1 2985.4C334.2 2987.8 340.0 2981.6 344.7 2984.7C354.3 2990.9 360.6 3021.4 367.9 3043.6C377.0 3071.3 384.8 3138.4 393.1 3138.5C400.3 3138.6 406.1 3067.4 414.4 3066.8C421.8 3066.3 432.7 3121.9 439.6 3121.0C448.9 3119.8 449.9 3040.0 459.0 3012.6C465.0 2994.6 471.8 2979.0 480.3 2970.0C486.1 2963.9 493.6 2959.9 499.7 2959.0C504.5 2958.3 509.5 2958.4 513.3 2962.2C521.0 2969.8 522.6 3018.6 526.8 3018.4C531.8 3018.2 535.1 2954.5 540.4 2935.0C543.4 2924.0 542.7 2914.9 550.0 2909.8C561.1 2902.1 593.0 2907.8 612.1 2909.8C628.8 2911.5 644.6 2917.9 658.6 2919.5C669.9 2920.8 677.9 2921.1 689.6 2920.3C705.2 2919.3 725.6 2913.2 743.9 2911.8C762.4 2910.4 779.5 2911.8 800.0 2912.0C825.0 2912.2 855.3 2913.0 883.0 2913.0C910.7 2913.0 935.7 2912.2 966.0 2912.0C1002.8 2911.8 1074.0 2901.8 1088.0 2912.0C1093.0 2915.7 1091.3 2927.0 1092.8 2927.0C1094.3 2927.0 1093.1 2914.9 1097.0 2912.0C1102.7 2907.8 1119.3 2912.7 1130.0 2913.0C1140.2 2913.3 1150.7 2914.0 1160.0 2914.0C1168.2 2914.0 1178.6 2909.6 1183.0 2913.0C1187.1 2916.2 1185.7 2932.0 1187.0 2932.0C1188.3 2932.0 1186.7 2916.5 1191.0 2913.0C1196.4 2908.6 1215.7 2908.8 1221.0 2913.0C1225.1 2916.2 1222.5 2929.5 1225.0 2930.0C1227.5 2930.6 1231.5 2919.0 1236.0 2916.0C1240.0 2913.3 1242.7 2913.0 1250.0 2912.0C1273.3 2908.7 1362.5 2912.2 1400.0 2911.0C1422.5 2910.3 1433.3 2907.7 1454.0 2908.0C1482.2 2908.4 1533.4 2909.3 1553.7 2916.2C1563.8 2919.6 1567.1 2925.1 1574.4 2929.5C1582.3 2934.3 1589.2 2942.6 1599.3 2944.0C1612.8 2945.9 1634.3 2931.2 1649.2 2931.6C1661.4 2932.0 1672.2 2935.4 1682.4 2942.0C1694.7 2949.9 1704.3 2971.9 1715.6 2979.3C1723.8 2984.7 1732.3 2989.8 1740.5 2987.6C1751.8 2984.6 1763.2 2962.7 1773.8 2950.3C1783.9 2938.5 1791.1 2922.2 1802.8 2915.0C1813.5 2908.4 1829.4 2904.4 1840.2 2906.7C1849.9 2908.8 1858.3 2915.5 1865.1 2925.3C1875.6 2940.4 1877.8 2974.3 1885.9 2996.0C1893.2 3015.5 1903.0 3049.9 1910.8 3050.0C1917.4 3050.1 1923.3 3026.1 1929.5 3012.6C1936.5 2997.3 1943.5 2965.0 1950.2 2962.7C1953.0 2961.7 1956.0 2964.7 1958.5 2967.3C1962.0 2970.9 1964.3 2977.1 1967.0 2984.3C1971.2 2995.6 1974.3 3015.7 1978.4 3029.7C1982.0 3041.9 1985.3 3054.4 1989.7 3063.8C1993.1 3071.1 1997.9 3082.5 2001.1 3082.2C2004.6 3081.8 2007.6 3068.2 2009.6 3058.1C2012.7 3042.3 2008.8 2996.7 2012.4 2995.7C2013.9 2995.3 2014.3 3002.2 2018.1 3004.2C2027.4 3009.2 2067.3 3012.4 2080.5 3004.2C2090.8 2997.8 2090.7 2977.1 2097.6 2970.0C2102.3 2965.2 2108.8 2966.9 2113.2 2961.6C2120.7 2952.7 2122.5 2924.3 2128.8 2913.4C2132.6 2906.7 2136.7 2899.5 2141.5 2899.2C2146.9 2898.8 2155.9 2907.3 2160.0 2914.8C2165.4 2924.6 2162.8 2944.4 2165.7 2956.0C2167.9 2964.8 2172.0 2969.2 2174.2 2978.6C2177.6 2993.1 2177.5 3016.5 2179.9 3035.4C2182.3 3054.3 2183.5 3077.0 2188.4 3092.1C2192.0 3103.1 2198.7 3119.7 2202.6 3119.1C2207.9 3118.3 2209.9 3086.3 2213.9 3063.8C2220.0 3029.0 2225.3 2959.0 2233.8 2930.4C2238.1 2916.0 2242.6 2899.9 2248.0 2899.2C2252.3 2898.6 2258.2 2907.6 2262.1 2916.2C2270.0 2933.5 2267.9 2991.6 2276.3 3004.2C2279.6 3009.1 2284.2 3012.6 2287.7 3011.3C2294.9 3008.6 2300.6 2955.7 2304.7 2956.0C2308.3 2956.3 2309.4 3001.3 2311.8 3001.3C2315.0 3001.2 2314.6 2939.0 2321.7 2921.9C2325.7 2912.3 2332.1 2902.5 2337.3 2902.0C2341.6 2901.6 2350.0 2913.4 2350.0 2913.4" fill="none" stroke="#ff0000" stroke-width="10.5" stroke-linejoin="round" stroke-linecap="round"/>
<path d="M243.9 3157.9C243.9 3157.9 253.8 3154.6 257.4 3156.0C260.8 3157.4 262.3 3165.4 265.2 3165.7C268.1 3166.0 270.9 3158.0 274.9 3157.9C280.9 3157.8 290.3 3169.2 298.0 3175.3C305.8 3181.5 313.0 3187.9 321.4 3194.7C331.0 3202.5 344.1 3209.2 352.4 3219.4C361.1 3230.1 365.0 3245.4 371.8 3258.0C378.6 3270.6 384.9 3293.9 393.1 3295.0C400.6 3296.0 410.4 3271.5 418.3 3269.8C423.7 3268.6 429.6 3276.2 433.8 3275.6C437.0 3275.1 439.2 3273.1 441.6 3269.8C446.3 3263.1 446.7 3241.1 453.2 3233.0C458.1 3226.9 464.7 3223.9 472.6 3221.9C483.0 3219.3 500.3 3225.2 511.3 3222.9C520.3 3221.1 526.0 3216.1 534.6 3212.2C545.0 3207.5 556.1 3200.0 569.5 3196.7C586.1 3192.6 608.2 3193.4 627.6 3192.8C647.0 3192.2 670.3 3196.4 685.7 3192.8C696.8 3190.2 702.8 3184.2 712.9 3179.2C725.5 3172.9 740.8 3163.0 755.5 3157.9C769.9 3152.9 782.3 3150.1 800.0 3148.5C825.7 3146.2 863.3 3151.4 895.5 3151.7C928.3 3152.0 962.2 3151.3 995.0 3150.4C1027.2 3149.5 1072.2 3151.1 1090.7 3146.3C1098.8 3144.2 1103.5 3136.3 1107.3 3138.0C1111.5 3139.9 1109.8 3158.7 1113.5 3160.0C1116.4 3161.0 1121.3 3151.9 1125.0 3152.0C1128.5 3152.1 1131.5 3158.3 1135.0 3160.0C1138.1 3161.5 1140.9 3161.9 1144.7 3162.0C1150.3 3162.1 1160.2 3162.4 1165.4 3158.7C1170.7 3154.9 1172.1 3139.6 1175.8 3139.2C1178.7 3138.9 1180.9 3149.1 1185.0 3150.0C1190.1 3151.1 1198.6 3139.9 1205.0 3140.5C1211.5 3141.1 1214.7 3151.2 1223.6 3153.8C1239.7 3158.5 1271.5 3150.8 1298.3 3149.6C1329.6 3148.2 1369.2 3146.7 1400.0 3146.0C1425.7 3145.4 1450.3 3139.9 1470.6 3145.4C1488.2 3150.1 1499.8 3164.6 1516.3 3172.4C1534.1 3180.8 1556.2 3193.2 1574.4 3193.2C1590.5 3193.2 1608.4 3182.5 1620.0 3176.6C1627.9 3172.6 1634.6 3162.9 1638.8 3164.1C1642.3 3165.1 1641.4 3174.1 1645.0 3178.0C1649.5 3182.8 1658.5 3183.6 1665.8 3189.0C1676.1 3196.7 1691.6 3215.5 1699.0 3222.8C1702.6 3226.4 1703.7 3228.0 1707.3 3230.6C1712.5 3234.3 1721.6 3242.8 1728.0 3241.5C1735.6 3240.0 1744.2 3216.0 1748.8 3216.6C1751.9 3217.0 1752.8 3230.1 1755.0 3230.0C1758.7 3229.8 1758.3 3198.4 1767.5 3191.1C1777.5 3183.1 1799.2 3187.7 1815.3 3187.0C1831.7 3186.3 1855.6 3179.2 1865.1 3187.0C1873.9 3194.3 1869.9 3213.6 1873.4 3229.0C1877.8 3248.2 1881.6 3286.9 1890.0 3293.4C1893.6 3296.2 1899.3 3290.7 1902.5 3293.4C1908.7 3298.6 1907.7 3339.1 1910.8 3339.1C1915.0 3339.1 1917.6 3256.9 1925.3 3254.0C1928.3 3252.8 1933.3 3263.2 1935.7 3262.3C1938.9 3261.1 1937.7 3247.3 1939.9 3239.5C1942.3 3230.8 1947.4 3212.2 1950.2 3212.5C1954.1 3212.9 1953.9 3252.2 1958.5 3265.3C1961.5 3273.8 1966.7 3277.7 1969.9 3285.1C1973.5 3293.5 1974.5 3306.0 1978.4 3313.5C1981.5 3319.4 1986.5 3321.6 1989.7 3327.7C1994.1 3336.0 1997.0 3360.5 1999.7 3360.3C2002.8 3360.1 2002.3 3317.5 2006.8 3316.3C2009.7 3315.5 2015.2 3331.3 2018.1 3330.5C2023.4 3329.0 2023.1 3293.9 2025.2 3270.9C2028.1 3239.7 2030.1 3160.2 2032.3 3160.2C2034.3 3160.2 2033.9 3234.7 2038.0 3256.8C2040.2 3268.7 2041.4 3281.3 2046.5 3283.7C2050.7 3285.6 2059.1 3281.4 2063.5 3276.6C2069.7 3269.9 2070.4 3249.9 2074.9 3242.6C2077.5 3238.4 2081.0 3238.4 2083.4 3234.0C2087.8 3225.9 2084.7 3202.8 2091.9 3194.3C2098.1 3186.9 2110.9 3182.6 2120.3 3183.0C2129.8 3183.4 2139.8 3194.3 2148.6 3197.1C2155.6 3199.3 2163.7 3195.2 2168.5 3200.0C2176.6 3208.1 2174.3 3241.2 2177.0 3256.8C2178.9 3267.9 2179.3 3275.1 2182.7 3285.1C2187.0 3297.5 2197.0 3325.4 2202.6 3324.9C2208.4 3324.4 2212.4 3292.0 2216.7 3279.5C2219.8 3270.6 2222.8 3267.6 2225.3 3256.8C2230.9 3232.9 2223.0 3147.4 2236.6 3137.5C2243.0 3132.9 2255.7 3136.4 2262.1 3143.2C2273.8 3155.5 2269.3 3211.8 2276.3 3228.4C2279.6 3236.2 2283.9 3244.0 2287.7 3244.0C2291.5 3244.0 2295.8 3235.5 2299.0 3228.4C2304.3 3216.6 2306.1 3192.1 2310.4 3177.3C2313.8 3165.5 2315.2 3150.5 2321.7 3146.0C2326.7 3142.5 2336.6 3141.7 2341.6 3146.0C2351.2 3154.2 2353.0 3216.9 2353.0 3217.0" fill="none" stroke="#ff8000" stroke-width="10.5" stroke-linejoin="round" stroke-linecap="round"/>
<path d="M243.9 3380.2C243.9 3380.2 252.0 3377.5 255.5 3378.3C259.1 3379.1 261.9 3385.2 265.2 3385.3C268.4 3385.4 270.8 3379.4 274.9 3379.0C280.9 3378.4 290.8 3383.4 298.1 3388.0C306.4 3393.1 312.9 3402.2 321.4 3409.3C330.8 3417.1 344.1 3422.7 352.4 3432.6C361.2 3443.1 365.6 3456.7 371.8 3471.3C379.4 3489.3 385.1 3532.8 393.1 3533.3C400.2 3533.8 407.5 3488.2 416.4 3486.8C423.4 3485.7 433.5 3511.1 439.6 3510.0C445.8 3508.8 447.2 3487.4 453.2 3479.0C458.5 3471.7 465.0 3464.2 472.6 3461.6C480.4 3458.9 492.6 3466.9 499.7 3463.6C506.7 3460.3 508.8 3445.5 515.2 3442.2C520.7 3439.4 529.5 3444.9 534.6 3442.2C539.9 3439.4 541.5 3430.5 546.2 3424.8C551.6 3418.2 558.1 3408.9 565.6 3405.4C572.5 3402.2 580.1 3404.7 588.8 3403.5C600.1 3401.9 614.8 3399.2 627.6 3395.7C640.7 3392.1 653.4 3386.1 666.4 3382.2C679.2 3378.4 689.2 3374.8 705.1 3372.5C729.6 3368.9 766.2 3368.5 800.0 3368.0C838.7 3367.4 880.1 3370.2 924.6 3370.3C976.0 3370.4 1064.3 3372.6 1090.7 3368.2C1099.3 3366.8 1103.1 3361.2 1107.3 3362.8C1111.4 3364.4 1112.3 3377.1 1115.6 3377.7C1118.4 3378.2 1121.8 3370.0 1125.0 3370.0C1128.3 3370.0 1131.7 3378.0 1135.0 3378.0C1138.3 3378.0 1141.7 3370.0 1145.0 3370.0C1148.3 3370.0 1151.4 3376.8 1155.0 3378.0C1158.2 3379.1 1162.2 3379.2 1165.4 3377.7C1169.3 3375.9 1171.7 3366.9 1175.8 3366.0C1179.9 3365.1 1184.0 3370.4 1190.0 3372.0C1199.4 3374.5 1213.2 3376.5 1227.7 3376.5C1247.6 3376.5 1274.4 3369.6 1298.3 3368.2C1322.8 3366.8 1354.7 3364.6 1373.1 3368.2C1384.6 3370.4 1390.6 3375.1 1400.0 3379.0C1410.5 3383.3 1421.5 3388.0 1433.2 3393.1C1446.3 3398.8 1462.7 3404.1 1474.8 3411.8C1485.9 3418.9 1495.2 3428.3 1503.8 3436.7C1511.6 3444.3 1517.3 3454.3 1524.6 3459.6C1530.6 3463.9 1537.3 3469.3 1543.3 3467.9C1551.2 3466.1 1558.5 3451.7 1566.1 3440.9C1575.8 3427.1 1583.1 3403.8 1595.2 3391.0C1605.8 3379.7 1620.7 3368.3 1632.6 3366.1C1641.9 3364.4 1651.2 3366.9 1659.6 3372.3C1671.0 3379.5 1681.3 3400.2 1690.7 3411.8C1698.3 3421.1 1704.3 3431.5 1711.5 3436.7C1716.8 3440.5 1722.8 3444.6 1728.0 3443.0C1735.5 3440.8 1744.1 3413.6 1748.8 3413.9C1751.7 3414.1 1752.5 3426.1 1755.0 3426.0C1760.2 3425.7 1768.5 3372.7 1775.8 3370.3C1779.1 3369.2 1782.0 3377.1 1786.0 3377.0C1792.2 3376.8 1804.2 3358.2 1809.0 3359.9C1813.3 3361.4 1810.9 3380.6 1815.0 3382.0C1819.2 3383.5 1829.0 3367.4 1834.0 3368.2C1838.3 3368.9 1840.0 3381.4 1844.0 3382.0C1848.2 3382.6 1854.4 3369.4 1858.9 3370.3C1864.4 3371.4 1868.7 3385.9 1873.4 3395.2C1879.1 3406.3 1886.6 3433.0 1890.0 3432.6C1892.6 3432.3 1890.9 3408.8 1894.0 3408.0C1896.8 3407.3 1903.5 3415.9 1906.6 3424.3C1913.2 3442.4 1908.7 3519.7 1910.8 3519.8C1912.4 3519.8 1911.1 3463.8 1917.0 3459.6C1919.2 3458.0 1923.0 3459.1 1925.3 3461.6C1931.1 3467.9 1927.8 3503.3 1933.6 3515.6C1937.3 3523.4 1944.4 3524.2 1948.2 3532.2C1954.7 3545.8 1956.2 3576.4 1958.6 3594.5C1960.4 3608.3 1960.4 3615.5 1962.1 3631.1C1965.2 3658.6 1970.9 3726.6 1976.6 3745.3C1978.6 3751.8 1981.1 3751.7 1982.9 3757.8C1987.0 3771.5 1989.1 3805.6 1991.2 3828.4C1993.2 3849.8 1993.6 3869.4 1995.3 3890.6C1997.0 3912.9 1996.6 3957.3 2001.5 3959.1C2003.2 3959.7 2006.0 3956.5 2007.8 3952.9C2012.5 3943.6 2013.0 3894.9 2016.1 3894.8C2018.6 3894.7 2022.0 3919.2 2024.4 3932.2C2026.9 3946.1 2027.6 3975.5 2030.6 3975.8C2032.8 3976.0 2036.7 3963.5 2038.9 3952.9C2043.4 3931.0 2043.4 3883.7 2045.1 3849.1C2046.8 3814.5 2047.8 3778.0 2049.3 3745.3C2050.6 3716.1 2051.5 3688.0 2053.4 3662.3C2055.1 3640.0 2057.8 3617.2 2059.7 3600.0C2061.1 3587.8 2062.0 3582.6 2063.5 3568.9C2066.4 3542.0 2069.3 3477.9 2074.9 3449.7C2078.1 3433.7 2082.3 3422.6 2086.2 3412.8C2089.0 3405.9 2090.6 3397.2 2094.7 3395.8C2098.4 3394.6 2103.2 3402.0 2108.9 3402.9C2116.6 3404.1 2131.8 3395.5 2137.3 3398.6C2141.3 3400.9 2141.2 3412.9 2143.0 3412.8C2145.0 3412.7 2144.3 3396.3 2148.6 3393.0C2152.9 3389.8 2164.1 3389.4 2168.5 3393.0C2174.0 3397.6 2169.6 3421.8 2174.2 3424.2C2177.3 3425.8 2184.1 3416.9 2187.0 3418.5C2190.9 3420.6 2187.5 3439.8 2191.2 3444.0C2193.6 3446.7 2198.9 3444.4 2201.1 3446.9C2204.2 3450.4 2202.5 3466.6 2204.0 3466.7C2205.7 3466.8 2206.9 3447.5 2211.1 3441.2C2214.6 3436.0 2221.7 3436.4 2225.3 3429.9C2232.3 3417.3 2224.4 3370.0 2233.8 3361.7C2239.2 3356.9 2250.9 3360.0 2256.5 3361.7C2260.2 3362.8 2262.6 3363.5 2265.0 3367.4C2271.7 3378.0 2269.2 3425.2 2276.3 3444.0C2281.0 3456.4 2290.5 3473.2 2294.8 3472.4C2299.0 3471.7 2299.8 3454.2 2301.9 3441.2C2305.4 3419.9 2306.7 3356.5 2310.4 3356.1C2312.1 3355.9 2312.6 3372.3 2316.0 3373.1C2320.2 3374.1 2330.0 3352.9 2335.9 3353.2C2341.2 3353.5 2350.0 3370.3 2350.0 3370.3" fill="none" stroke="#008000" stroke-width="10.0" stroke-linejoin="round" stroke-linecap="round"/>
<line x1="393.0" y1="2685.0" x2="393.0" y2="3849.0" stroke="#666" stroke-width="5.5" stroke-dasharray="25 10 6 10" stroke-dashoffset="0.0"/>
<line x1="440.5" y1="2692.0" x2="440.5" y2="3843.0" stroke="#3a3a3a" stroke-width="5.0" stroke-dasharray="25 10 6 10" stroke-dashoffset="0.0"/>
<line x1="1911.0" y1="2697.0" x2="1911.0" y2="3807.0" stroke="#505050" stroke-width="5.5" stroke-dasharray="25 10 6 10" stroke-dashoffset="0.0"/>
<line x1="2000.6" y1="2703.0" x2="2000.6" y2="4039.0" stroke="#777" stroke-width="6.0" stroke-dasharray="25 10 6 10" stroke-dashoffset="0.0"/>
<line x1="2202.3" y1="2665.0" x2="2202.3" y2="3796.0" stroke="#333" stroke-width="5.0" stroke-dasharray="25 10 6 10" stroke-dashoffset="0.0"/>
<rect x="242.8" y="2338.6" width="2109.7" height="1711.4" fill="none" stroke="#000" stroke-width="6"/>
<line x1="242.9" y1="4050.0" x2="242.9" y2="4067.0" stroke="#000" stroke-width="5.5"/>
<line x1="363.5" y1="4050.0" x2="363.5" y2="4083.0" stroke="#000" stroke-width="5.5"/>
<line x1="484.1" y1="4050.0" x2="484.1" y2="4067.0" stroke="#000" stroke-width="5.5"/>
<line x1="604.7" y1="4050.0" x2="604.7" y2="4083.0" stroke="#000" stroke-width="5.5"/>
<line x1="725.3" y1="4050.0" x2="725.3" y2="4067.0" stroke="#000" stroke-width="5.5"/>
<line x1="845.9" y1="4050.0" x2="845.9" y2="4083.0" stroke="#000" stroke-width="5.5"/>
<line x1="966.4" y1="4050.0" x2="966.4" y2="4067.0" stroke="#000" stroke-width="5.5"/>
<line x1="1087.0" y1="4050.0" x2="1087.0" y2="4083.0" stroke="#000" stroke-width="5.5"/>
<line x1="1207.6" y1="4050.0" x2="1207.6" y2="4067.0" stroke="#000" stroke-width="5.5"/>
<line x1="1328.2" y1="4050.0" x2="1328.2" y2="4083.0" stroke="#000" stroke-width="5.5"/>
<line x1="1448.8" y1="4050.0" x2="1448.8" y2="4067.0" stroke="#000" stroke-width="5.5"/>
<line x1="1569.4" y1="4050.0" x2="1569.4" y2="4083.0" stroke="#000" stroke-width="5.5"/>
<line x1="1690.0" y1="4050.0" x2="1690.0" y2="4067.0" stroke="#000" stroke-width="5.5"/>
<line x1="1810.6" y1="4050.0" x2="1810.6" y2="4083.0" stroke="#000" stroke-width="5.5"/>
<line x1="1931.2" y1="4050.0" x2="1931.2" y2="4067.0" stroke="#000" stroke-width="5.5"/>
<line x1="2051.8" y1="4050.0" x2="2051.8" y2="4083.0" stroke="#000" stroke-width="5.5"/>
<line x1="2172.3" y1="4050.0" x2="2172.3" y2="4067.0" stroke="#000" stroke-width="5.5"/>
<line x1="2292.9" y1="4050.0" x2="2292.9" y2="4083.0" stroke="#000" stroke-width="5.5"/>
<text transform="translate(363.5 4164.0) scale(1 1.0150)" font-size="72.5" text-anchor="middle">3000</text>
<text transform="translate(604.7 4164.0) scale(1 1.0150)" font-size="72.5" text-anchor="middle">2800</text>
<text transform="translate(845.9 4164.0) scale(1 1.0150)" font-size="72.5" text-anchor="middle">2600</text>
<text transform="translate(1087.0 4164.0) scale(1 1.0150)" font-size="72.5" text-anchor="middle">2400</text>
<text transform="translate(1328.2 4164.0) scale(1 1.0150)" font-size="72.5" text-anchor="middle">2200</text>
<text transform="translate(1569.4 4164.0) scale(1 1.0150)" font-size="72.5" text-anchor="middle">2000</text>
<text transform="translate(1810.6 4164.0) scale(1 1.0150)" font-size="72.5" text-anchor="middle">1800</text>
<text transform="translate(2051.8 4164.0) scale(1 1.0150)" font-size="72.5" text-anchor="middle">1600</text>
<text transform="translate(2292.9 4164.0) scale(1 1.0150)" font-size="72.5" text-anchor="middle">1400</text>
<text transform="translate(963.4 2421.7) scale(1.0000 1.0400)" font-size="88.0">Neat silica</text>
<text transform="translate(1003.5 2667.9) scale(1.0000 1.0400)" font-size="88.7">S.MPS</text>
<text transform="translate(941.2 2844.4) scale(1.0000 1.0400)" font-size="88.6">S.QAMTMSi</text>
<text transform="translate(935.0 3083.2) scale(1.0000 1.0400)" font-size="88.6">S.QAMTESi</text>
<text transform="translate(930.9 3329.6) scale(1.0000 1.0400)" font-size="89.0">S.QAPTESi</text>
<text transform="translate(452.8 2630.6) scale(1.0000 1.0300)" font-size="81.4">C-H</text>
<text transform="translate(1786.3 2665.8) scale(1.0000 1.0300)" font-size="80.5">C=O</text>
<text transform="translate(1975.7 2688.0) scale(1.0000 1.0300)" font-size="80.5">C=C</text>
<text transform="translate(2186.4 2632.7) scale(1.0000 1.0300)" font-size="81.5">C-H</text>
<text style="font-family:NanumGothic,'Liberation Sans',sans-serif;stroke:none"><tspan x="41.8" y="2335.4" font-size="88.4">(</tspan><tspan x="72.9" y="2330.6" font-size="90.5">b</tspan><tspan x="129.6" y="2335.4" font-size="88.4">)</tspan></text>
<text transform="translate(977.9 4308.8) scale(1 1.0650)" font-size="88.6">Wavenumber (cm<tspan font-size="61" dy="-29.4">-</tspan><tspan font-size="61" dy="-4">1</tspan><tspan dy="33.4">)</tspan></text>
<text transform="translate(169.4 3516.3) rotate(-90) scale(1 1.0500)" font-size="89.9">Transmitance (a.u.)</text>
</g>
</svg></body></html>
